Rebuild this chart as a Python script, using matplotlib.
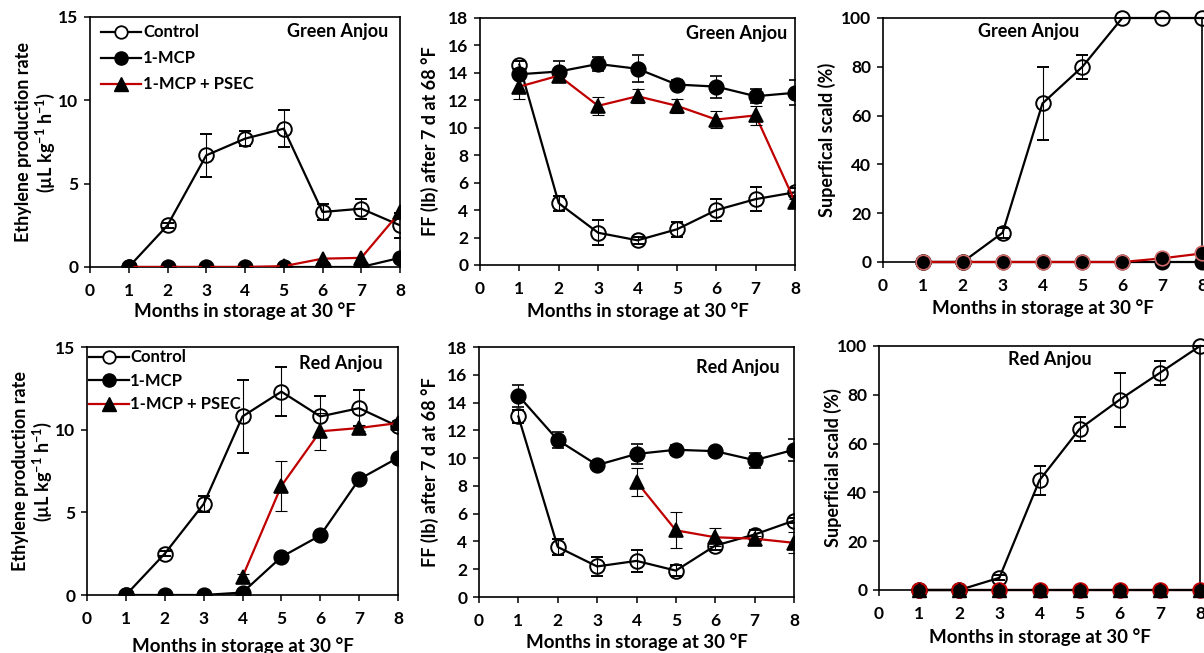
import matplotlib
matplotlib.use("Agg")
import matplotlib.pyplot as plt
from matplotlib.lines import Line2D

plt.rcParams['font.family'] = ['Lato', 'DejaVu Sans']
plt.rcParams['font.weight'] = 'bold'
plt.rcParams['mathtext.fontset'] = 'custom'
plt.rcParams['mathtext.rm'] = 'Lato:bold'
plt.rcParams['mathtext.bf'] = 'Lato:bold'
plt.rcParams['mathtext.it'] = 'Lato:bold'
plt.rcParams['mathtext.default'] = 'rm'

# ---------------- data ----------------
months = [1, 2, 3, 4, 5, 6, 7, 8]
months_late = [4, 5, 6, 7, 8]
xticks = [0, 1, 2, 3, 4, 5, 6, 7, 8]

# Green Anjou - ethylene
ga_eth_ctrl = [0, 2.5, 6.7, 7.7, 8.3, 3.3, 3.5, 2.5]
ga_eth_ctrl_err = [0.05, 0.15, 1.3, 0.45, 1.1, 0.5, 0.6, 0.75]
ga_eth_mcp = [0, 0, 0, 0, 0, 0, 0, 0.55]
ga_eth_psec = [0, 0, 0, 0, 0.05, 0.5, 0.55, 3.3]

# Green Anjou - firmness
ga_ff_ctrl = [14.6, 4.5, 2.35, 1.8, 2.6, 4.0, 4.8, 5.3]
ga_ff_ctrl_err = [0.3, 0.55, 0.9, 0.25, 0.55, 0.8, 0.9, 0.3]
ga_ff_mcp = [13.9, 14.1, 14.65, 14.3, 13.15, 13.0, 12.3, 12.55]
ga_ff_mcp_err = [0.3, 0.8, 0.5, 1.0, 0.35, 0.8, 0.5, 0.9]
ga_ff_psec = [13.0, 13.8, 11.6, 12.3, 11.6, 10.6, 10.9, 4.6]
ga_ff_psec_err = [0.9, 0.3, 0.65, 0.5, 0.5, 0.6, 0.7, 0.2]

# Green Anjou - scald
ga_sc_ctrl = [0, 0, 12, 65, 80, 100, 100, 100]
ga_sc_ctrl_err = [0, 0, 2, 15, 5, 0, 0, 0]
ga_sc_mcp = [0, 0, 0, 0, 0, 0, 0, 0]
ga_sc_psec = [0, 0, 0, 0, 0, 0, 1.5, 3.5]
ga_sc_psec_err = [0, 0, 0, 0, 0, 0, 1.5, 0]

# Red Anjou - ethylene
ra_eth_ctrl = [0, 2.5, 5.5, 10.8, 12.3, 10.8, 11.3, 10.2]
ra_eth_ctrl_err = [0, 0.15, 0.5, 2.2, 1.5, 1.25, 1.1, 0.2]
ra_eth_mcp = [0, 0, 0, 0.15, 2.3, 3.6, 7.0, 8.3]
ra_eth_psec = [1.1, 6.6, 9.9, 10.1, 10.4]
ra_eth_psec_err = [0.2, 1.5, 1.1, 0.2, 0.2]

# Red Anjou - firmness
ra_ff_ctrl = [13.0, 3.6, 2.2, 2.6, 1.9, 3.7, 4.5, 5.5]
ra_ff_ctrl_err = [0.5, 0.55, 0.7, 0.8, 0.4, 0.3, 0.3, 0.2]
ra_ff_mcp = [14.5, 11.3, 9.5, 10.3, 10.6, 10.5, 9.85, 10.6]
ra_ff_mcp_err = [0.8, 0.6, 0.3, 0.7, 0.35, 0.2, 0.55, 0.8]
ra_ff_psec = [8.3, 4.8, 4.3, 4.2, 3.9]
ra_ff_psec_err = [1.0, 1.3, 0.65, 0.2, 0.75]

# Red Anjou - scald
ra_sc_ctrl = [0, 0, 5, 45, 66, 78, 89, 100]
ra_sc_ctrl_err = [0, 0, 1, 6, 5, 11, 5, 0]
ra_sc_mcp = [0, 0, 0, 0, 0, 0, 0, 0]
ra_sc_psec = [0, 0, 0, 0, 0, 0, 0, 0]

labels = ["Control", "1-MCP", "1-MCP + PSEC"]
RED = '#c00000'
LW = 1.6
MS = 10.5
TICK_FS = 12.5
YLAB_FS = 13
XLAB_FS = 13.5
TITLE_FS = 13
LEG_FS = 12

fig = plt.figure(figsize=(12.04, 6.53), dpi=100)


def make_ax(px_left, px_top, px_right, px_bottom):
    W, H = 1204.0, 653.0
    return fig.add_axes([px_left / W, 1 - px_bottom / H,
                         (px_right - px_left) / W, (px_bottom - px_top) / H])


def style(ax, ylim, yticks, ylabel, ylab_x, xlab_y, title, tx, ty, tha):
    ax.set_xlim(0, 8)
    ax.set_ylim(*ylim)
    ax.set_xticks(xticks)
    ax.set_yticks(yticks)
    for s in ax.spines.values():
        s.set_linewidth(1.2)
        s.set_color('black')
    ax.tick_params(axis='both', direction='out', length=4.5, width=1.1,
                   labelsize=TICK_FS)
    ax.tick_params(axis='x', pad=7)
    ax.tick_params(axis='y', pad=4)
    ax.set_ylabel(ylabel, fontsize=YLAB_FS, fontweight='bold', va='center',
                  linespacing=1.1)
    ax.yaxis.set_label_coords(ylab_x, 0.5)
    ax.set_xlabel("Months in storage at 30 °F", fontsize=XLAB_FS,
                  fontweight='bold', va='center')
    ax.xaxis.set_label_coords(0.5, xlab_y)
    ax.text(tx, ty, title, transform=ax.transAxes, ha=tha, va='center',
            fontsize=TITLE_FS, fontweight='bold')


def ctrl(ax, x, y, err=None):
    ax.errorbar(x, y, yerr=err, color='black', lw=LW, marker='o', ms=MS,
                mfc='none', mec='black', mew=1.4, ecolor='black',
                elinewidth=0.8, capsize=4.5, capthick=0.8, zorder=3)


def mcp(ax, x, y, err=None, mec='black'):
    ax.errorbar(x, y, yerr=err, color='black', lw=LW, marker='o', ms=MS,
                mfc='black', mec=mec, mew=1.2, ecolor='black',
                elinewidth=0.8, capsize=4.5, capthick=0.8, zorder=4)


def psec(ax, x, y, err=None, marker='^', mec='black', line_z=5):
    ax.plot(x, y, color=RED, lw=LW, zorder=line_z)
    if err is not None:
        ax.errorbar(x, y, yerr=err, fmt='none', ecolor='black',
                    elinewidth=0.8, capsize=4.5, capthick=0.8, zorder=5)
    ax.plot(x, y, ls='none', marker=marker, ms=MS, mfc='black', mec=mec,
            mew=1.2, zorder=6)


def legend_handles():
    return [
        Line2D([], [], color='black', lw=LW, marker='o', ms=9, mfc='white',
               mec='black', mew=1.3),
        Line2D([], [], color='black', lw=LW, marker='o', ms=9.5, mfc='black',
               mec='black'),
        Line2D([], [], color=RED, lw=LW, marker='^', ms=9.5, mfc='black',
               mec='black'),
    ]


eth_label = "Ethylene production rate\n(µL kg$^{-1}$ h$^{-1}$)"
ff_label = "FF (lb) after 7 d at 68 °F"

# ---------- Top left ----------
ax1 = make_ax(90, 17, 400, 267)
ctrl(ax1, months, ga_eth_ctrl, ga_eth_ctrl_err)
mcp(ax1, months, ga_eth_mcp)
psec(ax1, months, ga_eth_psec)
style(ax1, (0, 15), [0, 5, 10, 15], eth_label, -0.175, -0.176,
      "Green Anjou", 0.963, 0.94, 'right')
ax1.legend(legend_handles(), labels, loc='upper left',
           bbox_to_anchor=(0.035, 0.97), frameon=False, fontsize=LEG_FS,
           handlelength=2.4, handletextpad=0.15, labelspacing=0.6,
           borderpad=0, borderaxespad=0)

# ---------- Top middle ----------
ax2 = make_ax(480, 18, 795, 265)
ctrl(ax2, months, ga_ff_ctrl, ga_ff_ctrl_err)
mcp(ax2, months, ga_ff_mcp, ga_ff_mcp_err)
psec(ax2, months, ga_ff_psec, ga_ff_psec_err)
style(ax2, (0, 18), list(range(0, 19, 2)), ff_label, -0.16, -0.186,
      "Green Anjou", 0.975, 0.939, 'right')

# ---------- Top right ----------
ax3 = make_ax(883, 18, 1202, 262)
ctrl(ax3, months, ga_sc_ctrl, ga_sc_ctrl_err)
ax3.plot(months, ga_sc_mcp, color='black', lw=LW, marker='o', ms=MS,
         mfc='black', mec='black', zorder=4)
psec(ax3, months, ga_sc_psec, ga_sc_psec_err, marker='o', mec='#d06a6a',
     line_z=5)
style(ax3, (0, 100), [0, 20, 40, 60, 80, 100], "Superfical scald (%)",
      -0.175, -0.189, "Green Anjou", 0.458, 0.943, 'center')

# ---------- Bottom left ----------
ax4 = make_ax(87, 347, 398, 595)
ctrl(ax4, months, ra_eth_ctrl, ra_eth_ctrl_err)
mcp(ax4, months, ra_eth_mcp)
psec(ax4, months_late, ra_eth_psec, ra_eth_psec_err)
style(ax4, (0, 15), [0, 5, 10, 15], eth_label, -0.175, -0.205,
      "Red Anjou", 0.952, 0.935, 'right')
ax4.legend(legend_handles(), labels, loc='upper left',
           bbox_to_anchor=(0.005, 0.99), frameon=False, fontsize=LEG_FS,
           handlelength=2.4, handletextpad=0.1, labelspacing=0.45,
           borderpad=0, borderaxespad=0)

# ---------- Bottom middle ----------
ax5 = make_ax(479, 347, 794, 597)
ctrl(ax5, months, ra_ff_ctrl, ra_ff_ctrl_err)
mcp(ax5, months, ra_ff_mcp, ra_ff_mcp_err)
psec(ax5, months_late, ra_ff_psec, ra_ff_psec_err)
style(ax5, (0, 18), list(range(0, 19, 2)), ff_label, -0.157, -0.18,
      "Red Anjou", 0.955, 0.92, 'right')

# ---------- Bottom right ----------
ax6 = make_ax(879, 346, 1200, 590)
ctrl(ax6, months, ra_sc_ctrl, ra_sc_ctrl_err)
ax6.plot(months, ra_sc_psec, color=RED, lw=LW, zorder=2)
ax6.plot(months, ra_sc_mcp, color='black', lw=LW, marker='o', ms=MS,
         mfc='black', mec=RED, mew=1.4, zorder=4)
ax6.plot(months, ra_sc_psec, ls='none', marker='^', ms=MS - 1,
         mfc='black', mec='black', zorder=6)
style(ax6, (0, 100), [0, 20, 40, 60, 80, 100], "Superficial scald (%)",
      -0.145, -0.193, "Red Anjou", 0.533, 0.943, 'center')

for ax in (ax3, ax6):
    for ln in ax.lines:
        ln.set_clip_on(False)

fig.savefig("out.png", dpi=100)
